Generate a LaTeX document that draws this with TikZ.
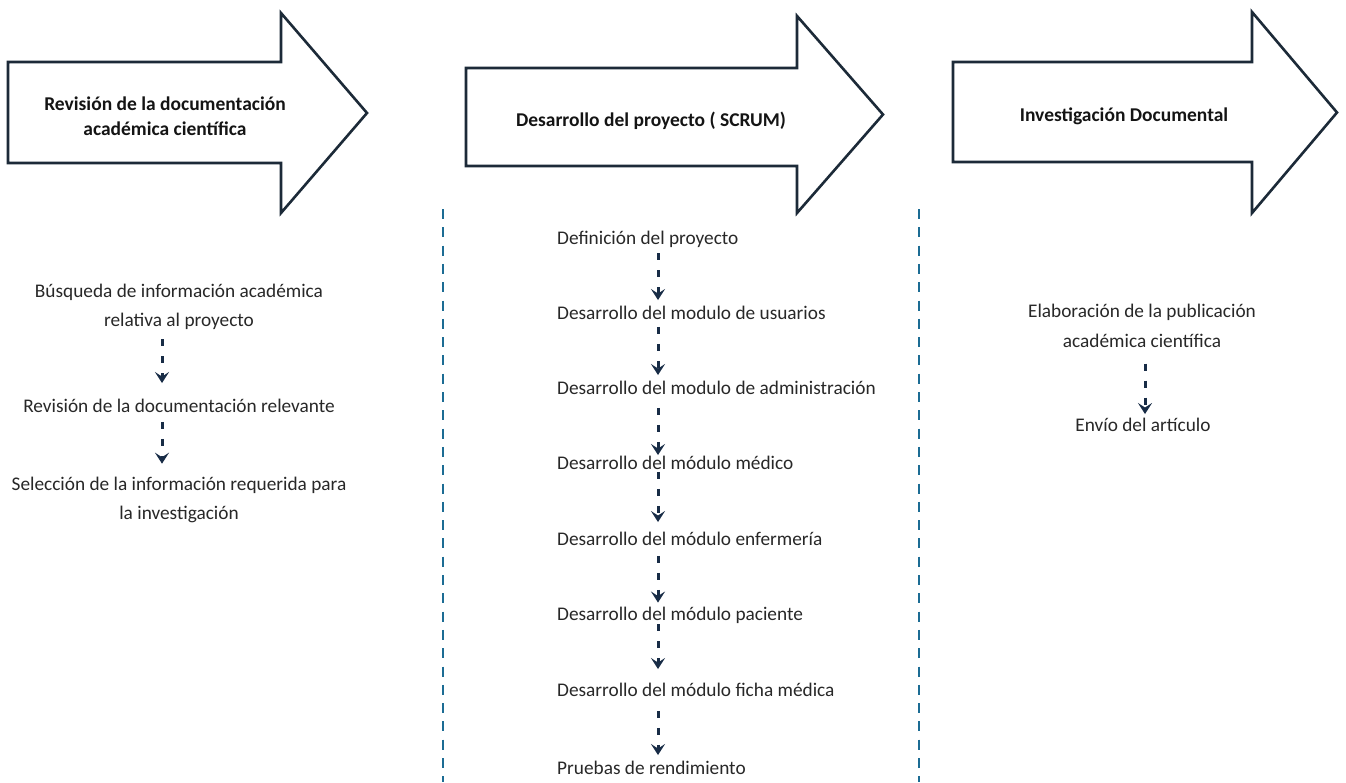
\documentclass[tikz,border=0pt]{standalone}
\usepackage{fontspec}
\setmainfont{Carlito}
\usetikzlibrary{arrows.meta,calc}
\definecolor{arrowline}{RGB}{28,42,56}
\definecolor{flownavy}{RGB}{24,44,70}
\definecolor{sepblue}{RGB}{28,108,148}
\definecolor{itemgray}{RGB}{40,40,40}
\def\bigarrow[#1](#2:#3:#4:#5:#6:#7:#8){\draw[#1] (#2,#3) -- (#5,#3) -- (#5,#6) -- (#8,{(#6+#7)/2}) -- (#5,#7) -- (#5,#4) -- (#2,#4) -- cycle;}
\tikzset{
	headtext/.style={font=\fontsize{19.5}{25}\selectfont\bfseries, align=center, inner sep=0pt, text=black!92},
	itemtext/.style={font=\fontsize{19.3}{29.5}\selectfont, inner sep=0pt, text=itemgray},
	flowarrow/.style={draw=flownavy, line width=3pt, dash pattern=on 7pt off 10pt, -{Stealth[length=11pt,width=14pt,inset=4.5pt]}},
	sepline/.style={draw=sepblue, line width=2.8pt, dash pattern=on 10pt off 8.3pt},
}

\begin{document}
\begin{tikzpicture}[x=1pt,y=-1pt]
		%%%%% START %%%%%
		\useasboundingbox[fill=white] (0,0) rectangle (1346,782);
		
		% phase arrows
		\bigarrow[line width=2.6pt, draw=arrowline, fill=white](8:62:163:281:13:213:367);
		\bigarrow[line width=2.6pt, draw=arrowline, fill=white](466:68:166:797:16:213:883);
		\bigarrow[line width=2.6pt, draw=arrowline, fill=white](953:62:162:1252:12:213:1337);
		
		\node[headtext] (fase1) at (165,116) {Revisión de la documentación\\académica científica};
		\node[headtext] (fase2) at (651,121) {Desarrollo del proyecto ( SCRUM)};
		\node[headtext] (fase3) at (1124,116) {Investigación Documental};
		
		% separators
		\coordinate (sepa) at (443,209);
		\coordinate (sepb) at (919,209);
		\draw[sepline] (sepa) -- (sepa |- 0,782);
		\draw[sepline] (sepb) -- (sepb |- 0,782);
		
		% column 1
		\coordinate (colA) at (162,0);
		\node[itemtext, align=center] (busq) at (179,307) {Búsqueda de información académica\\relativa al proyecto};
		\node[itemtext] (revi) at (179,406) {Revisión de la documentación relevante};
		\node[itemtext, align=center] (sele) at (179,500) {Selección de la información requerida para\\la investigación};
		\draw[flowarrow, shorten <=9pt, shorten >=16pt] (busq.south -| colA) -- (revi.north -| colA);
		\draw[flowarrow, shorten <=9pt, shorten >=13pt] (revi.south -| colA) -- (sele.north -| colA);
		
		% column 2
		\coordinate (colB) at (658,0);
		\node[itemtext, anchor=west] (defi) at (557,239) {Definición del proyecto};
		\node[itemtext, anchor=west] (usua) at (557,313) {Desarrollo del modulo de usuarios};
		\node[itemtext, anchor=west] (admi) at (557,388) {Desarrollo del modulo de administración};
		\node[itemtext, anchor=west] (medi) at (557,463) {Desarrollo del módulo médico};
		\node[itemtext, anchor=west] (enfe) at (557,539) {Desarrollo del módulo enfermería};
		\node[itemtext, anchor=west] (paci) at (557,615) {Desarrollo del módulo paciente};
		\node[itemtext, anchor=west] (fich) at (557,690) {Desarrollo del módulo ficha médica};
		\node[itemtext, anchor=west] (prue) at (557,768) {Pruebas de rendimiento};
		\draw[flowarrow, shorten <=6pt, shorten >=6pt] (defi.south -| colB) -- (usua.north -| colB);
		\draw[flowarrow, shorten <=7pt, shorten >=6pt] (usua.south -| colB) -- (admi.north -| colB);
		\draw[flowarrow, shorten <=13pt, shorten >=1pt] (admi.south -| colB) -- (medi.north -| colB);
		\draw[flowarrow, shorten <=2pt, shorten >=10pt] (medi.south -| colB) -- (enfe.north -| colB);
		\draw[flowarrow, shorten <=10pt, shorten >=4pt] (enfe.south -| colB) -- (paci.north -| colB);
		\draw[flowarrow, shorten <=1pt, shorten >=14pt] (paci.south -| colB) -- (fich.north -| colB);
		\draw[flowarrow, shorten <=14pt, shorten >=6pt] (fich.south -| colB) -- (prue.north -| colB);
		
		% column 3
		\coordinate (colC) at (1145,0);
		\node[itemtext, align=center] (elab) at (1142,326) {Elaboración de la publicación\\académica científica};
		\node[itemtext] (envi) at (1143,425) {Envío del artículo};
		\draw[flowarrow, shorten <=16pt, shorten >=4pt] (elab.south -| colC) -- (envi.north -| colC);
		
		%%%%% END %%%%%
\end{tikzpicture}
\end{document}
